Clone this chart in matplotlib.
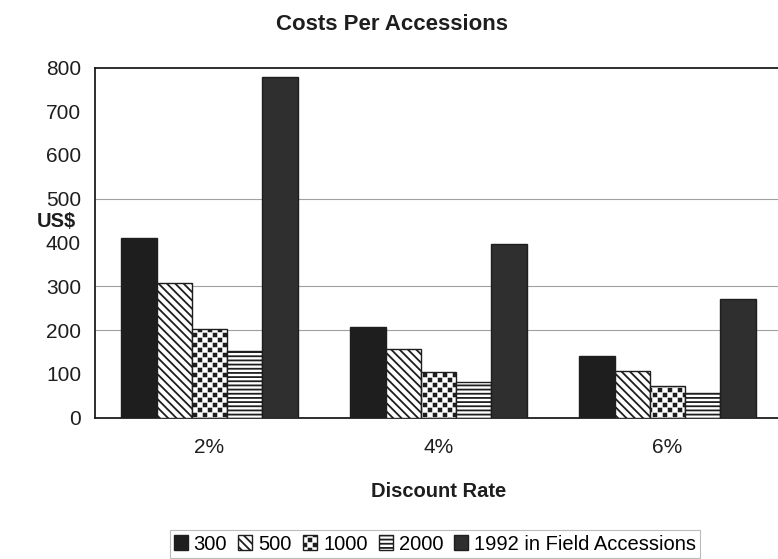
import numpy as np
import matplotlib
matplotlib.use("Agg")
import matplotlib.pyplot as plt
import matplotlib.hatch as mhatch
from matplotlib.path import Path
from matplotlib.patches import Patch

# data
rates = ["2%", "4%", "6%"]
series = ["300", "500", "1000", "2000", "1992 in Field Accessions"]
v300 = [410, 207, 140]
v500 = [308, 157, 107]
v1000 = [203, 105, 72]
v2000 = [152, 81, 55]
v1992 = [778, 396, 270]
values = [v300, v500, v1000, v2000, v1992]


# staggered square dots (rows twice as close as columns) for the '.' hatch
class SquareDots(mhatch.HatchPatternBase):
    half = 0.0135
    filled = True

    def __init__(self, hatch, density):
        self.n = 10 if '.' in hatch else 0
        n = self.n
        self.num_shapes = (n + 1) * (n + 1) + n * n if n else 0
        self.num_vertices = self.num_shapes * 5

    def set_vertices_and_codes(self, vertices, codes):
        n = self.n
        h = self.half
        sq = np.array([[-h, -h], [h, -h], [h, h], [-h, h], [-h, -h]])
        sc = np.array([Path.MOVETO, Path.LINETO, Path.LINETO, Path.LINETO,
                       Path.CLOSEPOLY], dtype=Path.code_type)
        vparts, cparts = [], []
        for row in range(2 * n + 1):
            if row % 2 == 0:
                cols = np.arange(n + 1) / n
            else:
                cols = (np.arange(n) + 0.5) / n
            for c in cols:
                vparts.append(sq + [c, row / (2 * n)])
                cparts.append(sc)
        np.concatenate(vparts, out=vertices)
        np.concatenate(cparts, out=codes)


mhatch._hatch_types = [SquareDots if t is mhatch.SmallFilledCircles else t
                       for t in mhatch._hatch_types]

plt.rcParams["font.family"] = ["Liberation Sans", "DejaVu Sans"]
plt.rcParams["hatch.linewidth"] = 1.3
plt.rcParams["hatch.color"] = "#1e1e1e"

styles = [
    dict(facecolor="#1e1e1e", hatch=None),
    dict(facecolor="white", hatch="\\\\\\\\"),
    dict(facecolor="white", hatch="."),
    dict(facecolor="white", hatch="----"),
    dict(facecolor="#2f2f2f", hatch=None),
]

W, H = 778, 559
fig = plt.figure(figsize=(W / 100, H / 100), dpi=100)
ax = fig.add_axes([95 / W, (H - 417.5) / H, 687 / W, 350 / H])

x = np.arange(len(rates))
bw = 0.154
for i, (vals, st) in enumerate(zip(values, styles)):
    ax.bar(x + (i - 2) * bw, vals, bw, edgecolor="#1e1e1e", linewidth=1.0,
           zorder=3, **st)

ax.set_xlim(-0.5, 2.5)
ax.set_ylim(0, 800)
ax.set_yticks(range(0, 801, 100))
ax.set_xticks(x)
ax.set_xticklabels(rates)
for g in (200, 300, 500):
    ax.axhline(g, color="#a0a0a0", lw=0.8, zorder=1)

ax.tick_params(axis="y", labelsize=15, pad=10, length=0, colors="#1e1e1e")
ax.tick_params(axis="x", labelsize=15, pad=15, length=0, colors="#1e1e1e")
for s in ("left", "bottom", "top"):
    ax.spines[s].set_linewidth(1.3)
    ax.spines[s].set_color("#1e1e1e")
ax.spines["right"].set_visible(False)

ax.set_xlabel("Discount Rate", fontsize=14.5, fontweight="bold", labelpad=18,
              color="#1e1e1e")
fig.text(37 / W, 1 - 222 / H, "US$", fontsize=14.5, fontweight="bold",
         va="center", ha="left", color="#1e1e1e")
fig.text(392 / W, 1 - 25 / H, "Costs Per Accessions", fontsize=16,
         fontweight="bold", ha="center", va="center", color="#1e1e1e")

handles = [Patch(edgecolor="#1e1e1e", linewidth=1.0, **st) for st in styles]
leg = fig.legend(handles, series, loc="center", ncol=5,
                 bbox_to_anchor=(435 / W, 1 - 544 / H), fontsize=14.5,
                 frameon=True, fancybox=False, edgecolor="#aaaaaa",
                 handlelength=0.7, handleheight=0.7, handletextpad=0.3,
                 columnspacing=0.55, borderpad=0.2, borderaxespad=0)
leg.get_frame().set_linewidth(0.8)

fig.savefig("out.png", dpi=100)
